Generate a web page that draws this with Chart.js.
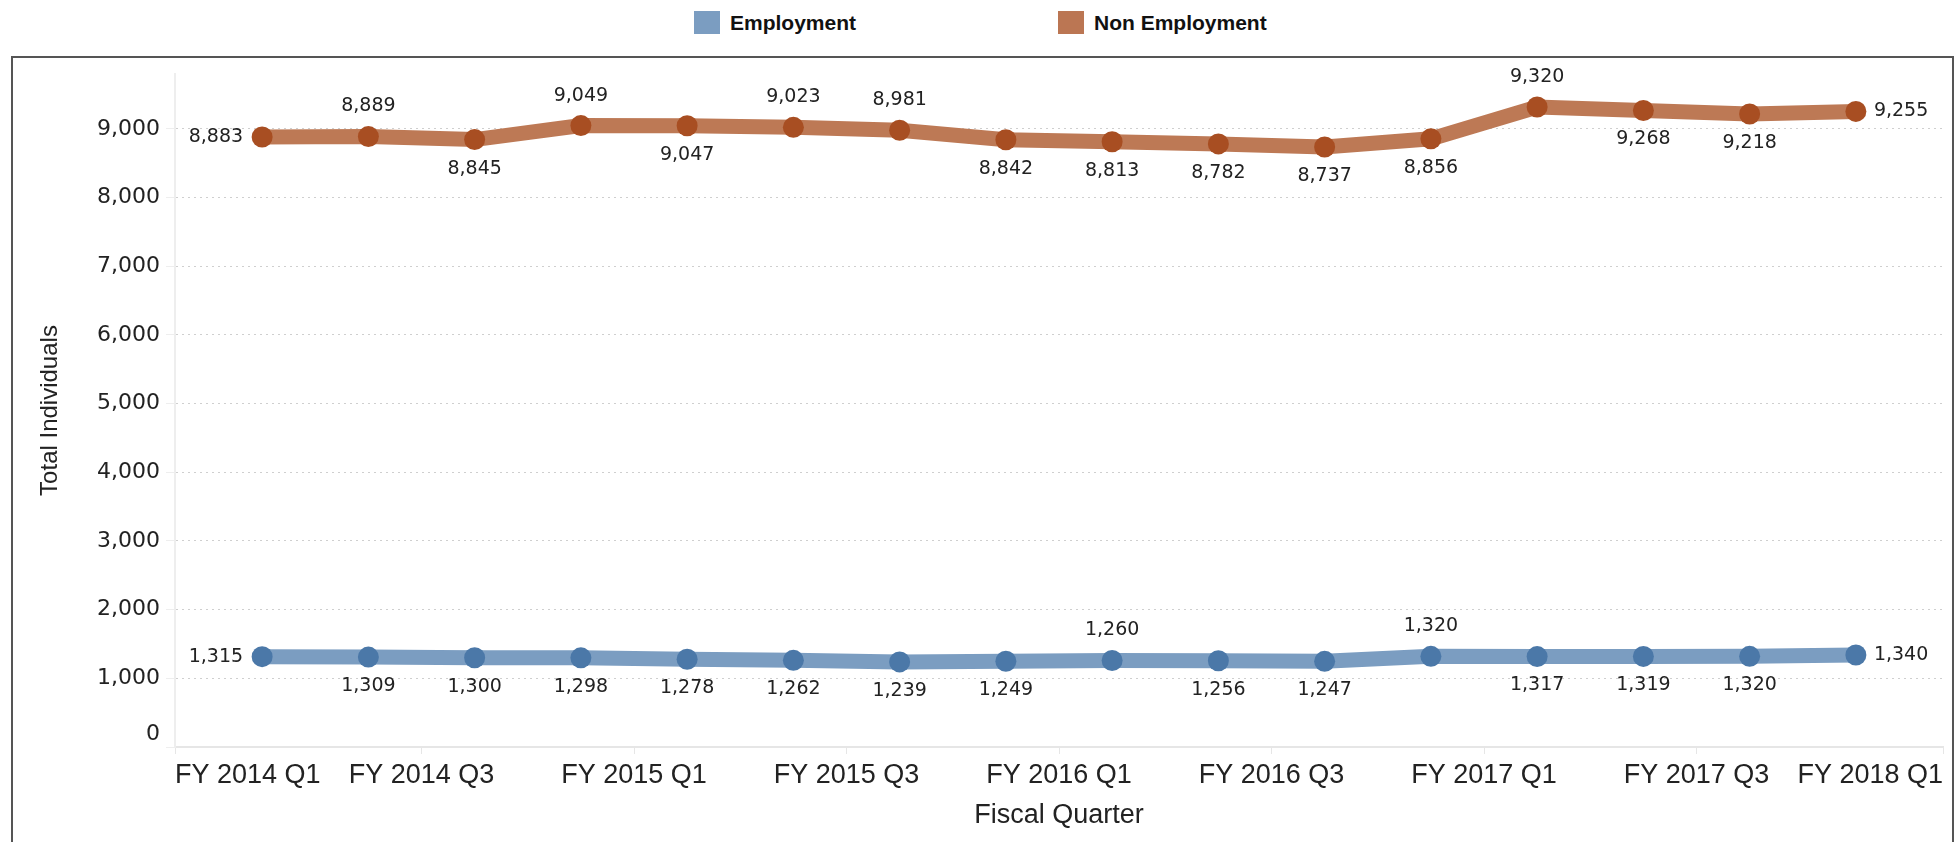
<!DOCTYPE html>
<html>
<head>
<meta charset="utf-8">
<script src="https://cdn.jsdelivr.net/npm/chart.js@4"></script>
<style>
  html, body { margin: 0; padding: 0; background: #fff; overflow: hidden; }
  #wrap { position: relative; width: 1957px; height: 842px; }
  #frame { position: absolute; left: 11px; top: 56px; width: 1939px; height: 820px; border: 2px solid #555; }
  #chart { position: absolute; left: 0; top: 0; }
  .leg { position: absolute; top: 10px; font: bold 21px "Liberation Sans", Arial, sans-serif; color: #111; }
  .leg i { position: absolute; top: 1px; width: 26px; height: 23px; }
  .leg span { position: absolute; top: 0; white-space: nowrap; line-height: 25px; }
</style>
</head>
<body>
<div id="wrap">
  <div id="frame"></div>
  <div class="leg"><i style="left:694px;background:#7b9dc1"></i><span style="left:730px">Employment</span></div>
  <div class="leg"><i style="left:1058px;background:#bb7653"></i><span style="left:1094px">Non Employment</span></div>
  <canvas id="chart" width="1957" height="842"></canvas>
</div>
<script>
// Axis labels shown under the chart
const tickLabels = ['FY 2014 Q1', 'FY 2014 Q3', 'FY 2015 Q1', 'FY 2015 Q3', 'FY 2016 Q1',
                    'FY 2016 Q3', 'FY 2017 Q1', 'FY 2017 Q3', 'FY 2018 Q1'];
const yTickValues = [0, 1000, 2000, 3000, 4000, 5000, 6000, 7000, 8000, 9000];

// Values per quarter (16 quarters)
const employment = [1315, 1309, 1300, 1298, 1278, 1262, 1239, 1249, 1260, 1256, 1247, 1320, 1317, 1319, 1320, 1340];
const nonEmployment = [8883, 8889, 8845, 9049, 9047, 9023, 8981, 8842, 8813, 8782, 8737, 8856, 9320, 9268, 9218, 9255];

// Where each value label sits relative to its point
const employmentLabelSide = ['left', 'below', 'below', 'below', 'below', 'below', 'below', 'below',
                             'above', 'below', 'below', 'above', 'below', 'below', 'below', 'right'];
const nonEmploymentLabelSide = ['left', 'above', 'below', 'above', 'below', 'above', 'above', 'below',
                                'below', 'below', 'below', 'below', 'above', 'below', 'below', 'right'];

const toPoints = arr => arr.map((v, i) => ({ x: i, y: v }));

// draws the value labels next to each point
const valueLabels = {
    id: 'valueLabels',
    afterDatasetsDraw(chart) {
        const ctx = chart.ctx;
        ctx.save();
        ctx.font = '19px "DejaVu Sans", sans-serif';
        ctx.fillStyle = '#222';
        chart.data.datasets.forEach((ds, di) => {
            const meta = chart.getDatasetMeta(di);
            meta.data.forEach((pt, j) => {
                const txt = ds.data[j].y.toLocaleString('en-US');
                const side = ds.labelSide[j];
                let x = pt.x, y = pt.y;
                ctx.textBaseline = 'middle';
                if (side === 'above') { ctx.textAlign = 'center'; y -= 30; }
                else if (side === 'below') { ctx.textAlign = 'center'; y += 29; }
                else if (side === 'left') { ctx.textAlign = 'right'; x -= 19; }
                else { ctx.textAlign = 'left'; x += 18; }
                ctx.fillText(txt, x, y);
            });
        });
        ctx.restore();
    }
};

new Chart(document.getElementById('chart').getContext('2d'), {
    type: 'line',
    data: {
        datasets: [
            {
                label: 'Employment',
                data: toPoints(employment),
                labelSide: employmentLabelSide,
                borderColor: '#7b9dc1',
                backgroundColor: '#4b78a8',
                pointBackgroundColor: '#4b78a8',
                borderWidth: 15,
                pointRadius: 10.5,
                pointBorderWidth: 0,
                tension: 0
            },
            {
                label: 'Non Employment',
                data: toPoints(nonEmployment),
                labelSide: nonEmploymentLabelSide,
                borderColor: '#bd7955',
                backgroundColor: '#a84e22',
                pointBackgroundColor: '#a84e22',
                borderWidth: 15,
                pointRadius: 10.5,
                pointBorderWidth: 0,
                tension: 0
            }
        ]
    },
    options: {
        responsive: false,
        animation: false,
        layout: { padding: { left: 20, top: 74, right: 14, bottom: 0 } },
        plugins: { legend: { display: false }, tooltip: { enabled: false } },
        scales: {
            x: {
                type: 'linear',
                min: -0.82,
                max: 15.82,
                afterBuildTicks: scale => {
                    const n = tickLabels.length;
                    scale.ticks = tickLabels.map((l, k) => ({
                        value: k === 0 ? scale.min : (k === n - 1 ? scale.max : 2 * k - 0.5)
                    }));
                },
                afterFit: scale => { scale.height = 95; },
                ticks: {
                    autoSkip: false,
                    maxRotation: 0,
                    align: 'inner',
                    padding: 5,
                    color: '#222',
                    font: { family: '"Liberation Sans", Arial', size: 27 },
                    callback: (v, i) => tickLabels[i]
                },
                grid: { drawOnChartArea: false, tickLength: 7, color: '#e6e6e6' },
                border: { color: '#e6e6e6', width: 2 },
                title: {
                    display: true,
                    text: 'Fiscal Quarter',
                    color: '#222',
                    font: { family: '"Liberation Sans", Arial', size: 27 },
                    padding: { top: 0, bottom: 10 }
                }
            },
            y: {
                type: 'linear',
                min: 0,
                max: 9800,
                afterBuildTicks: scale => {
                    scale.ticks = yTickValues.map(v => ({ value: v }));
                },
                afterFit: scale => { scale.width = 155; },
                ticks: {
                    autoSkip: false,
                    padding: 6,
                    color: '#222',
                    font: { family: '"DejaVu Sans"', size: 22 },
                    // lift the "0" label above the axis line
                    callback: v => v === 0 ? ['0', ''] : v.toLocaleString('en-US')
                },
                grid: {
                    color: ctx => (ctx.tick && ctx.tick.value === 0) ? 'rgba(0,0,0,0)' : '#cfcfcf',
                    tickLength: 9,
                    tickColor: '#eeeeee'
                },
                border: { color: '#eeeeee', width: 2, dash: [2, 4] },
                title: {
                    display: true,
                    text: 'Total Individuals',
                    color: '#222',
                    font: { family: '"Liberation Sans", Arial', size: 24 },
                    padding: { top: 16, bottom: 0 }
                }
            }
        }
    },
    plugins: [valueLabels]
});
</script>
</body>
</html>
